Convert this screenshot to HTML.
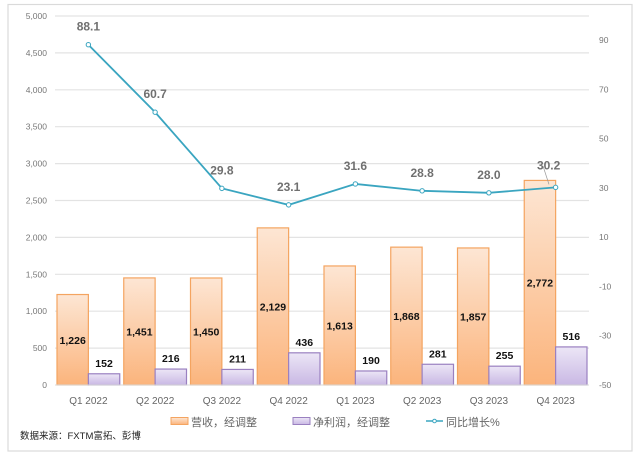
<!DOCTYPE html>
<html><head><meta charset="utf-8"><style>
html,body{margin:0;padding:0;background:#fff;width:635px;height:458px;overflow:hidden}
svg{display:block;font-family:"Liberation Sans","Noto Sans CJK SC",sans-serif}
</style></head><body>
<svg id="c" width="635" height="458" xmlns="http://www.w3.org/2000/svg">
<defs>
<linearGradient id="go" x1="0" y1="0" x2="0" y2="1"><stop offset="0" stop-color="#fde6d4"/><stop offset="1" stop-color="#fbb47c"/></linearGradient>
<linearGradient id="gp" x1="0" y1="0" x2="0" y2="1"><stop offset="0" stop-color="#ece6f6"/><stop offset="1" stop-color="#c9b8e4"/></linearGradient>
</defs>
<rect x="8" y="4.5" width="624" height="446.5" fill="#fff" stroke="#dadada" stroke-width="1.2"/>
<g id="g"></g>
</svg>
<script>
var g=document.getElementById('g'),h='';
var L=55,R=589,Y0=385,Y5=16,cw=(R-L)/8;
function ly(v){return Y0-v*(Y0-Y5)/5000}
function ry(v){return Y0-(v+50)*2.464}
for(var v=0;v<=5000;v+=500){var y=ly(v);
 if(v>0)h+='<line x1="'+L+'" x2="'+R+'" y1="'+y+'" y2="'+y+'" stroke="#e3e3e3" stroke-width="1.2"/>';
 h+='<text x="47" y="'+(y+3)+'" font-size="8.5" fill="#777" text-anchor="end">'+v.toLocaleString('en-US')+'</text>';}
for(var v=-50;v<=90;v+=20){h+='<text x="599" y="'+(ry(v)+3)+'" font-size="8.5" fill="#777">'+v+'</text>';}
var cats=['Q1 2022','Q2 2022','Q3 2022','Q4 2022','Q1 2023','Q2 2023','Q3 2023','Q4 2023'];
var rev=[1226,1451,1450,2129,1613,1868,1857,2772],np=[152,216,211,436,190,281,255,516],gr=[88.1,60.7,29.8,23.1,31.6,28.8,28.0,30.2];
var pts=[];
for(var i=0;i<8;i++){var c=L+cw*(i+0.5),x0=L+cw*i+2;
 var t=ly(rev[i]);
 h+='<rect x="'+x0+'" y="'+t+'" width="'+(c-x0)+'" height="'+(Y0-t)+'" fill="url(#go)" stroke="#f4a460" stroke-width="1.2"/>';
 var tp=ly(np[i]);
 h+='<rect x="'+c+'" y="'+tp+'" width="'+(c-x0)+'" height="'+(Y0-tp)+'" fill="url(#gp)" stroke="#9a80c0" stroke-width="1.2"/>';
 h+='<text x="'+((x0+c)/2)+'" y="'+((t+Y0)/2+4)+'" font-size="10.5" font-weight="bold" fill="#111" text-anchor="middle">'+rev[i].toLocaleString('en-US')+'</text>';
 h+='<text x="'+(c+(c-x0)/2)+'" y="'+(tp-7)+'" font-size="10.5" font-weight="bold" fill="#111" text-anchor="middle">'+np[i]+'</text>';
 h+='<text x="'+c+'" y="'+404+'" font-size="10" fill="#666" text-anchor="middle">'+cats[i]+'</text>';
 pts.push([c,ry(gr[i])]);}
h+='<line x1="'+L+'" x2="'+R+'" y1="'+Y0+'" y2="'+Y0+'" stroke="#d9d9d9" stroke-width="1"/>';
h+='<line x1="549" y1="'+(pts[7][1]-3)+'" x2="543" y2="166" stroke="#999" stroke-width="0.7"/>';
h+='<polyline points="'+pts.map(function(p){return p.join(',')}).join(' ')+'" fill="none" stroke="#3aa5c0" stroke-width="1.8"/>';
var dy=[-14,-14,-14,-14,-14,-14,-14,-18],dx=[0,0,0,0,0,0,0,-7];
for(var i=0;i<8;i++){h+='<circle cx="'+pts[i][0]+'" cy="'+pts[i][1]+'" r="2.2" fill="#fff" stroke="#3aa5c0" stroke-width="1"/>';
 h+='<text x="'+(pts[i][0]+dx[i])+'" y="'+(pts[i][1]+dy[i])+'" font-size="12" font-weight="bold" fill="#707070" text-anchor="middle">'+gr[i].toFixed(1)+'</text>';}
h+='<rect x="171" y="417.5" width="17" height="7" fill="url(#go)" stroke="#f4a460"/>';
h+='<text x="191" y="426" font-size="11" fill="#666">营收，经调整</text>';
h+='<rect x="293" y="417.5" width="17" height="7" fill="url(#gp)" stroke="#9a80c0"/>';
h+='<text x="313" y="426" font-size="11" fill="#666">净利润，经调整</text>';
h+='<line x1="426" x2="443" y1="421" y2="421" stroke="#3aa5c0" stroke-width="1.5"/><circle cx="434.5" cy="421" r="1.8" fill="#fff" stroke="#3aa5c0"/>';
h+='<text x="446" y="426" font-size="11" fill="#666">同比增长%</text>';
h+='<text x="20" y="439" font-size="9.5" fill="#222">数据来源：FXTM富拓、彭博</text>';
g.innerHTML=h;
</script>
</body></html>
